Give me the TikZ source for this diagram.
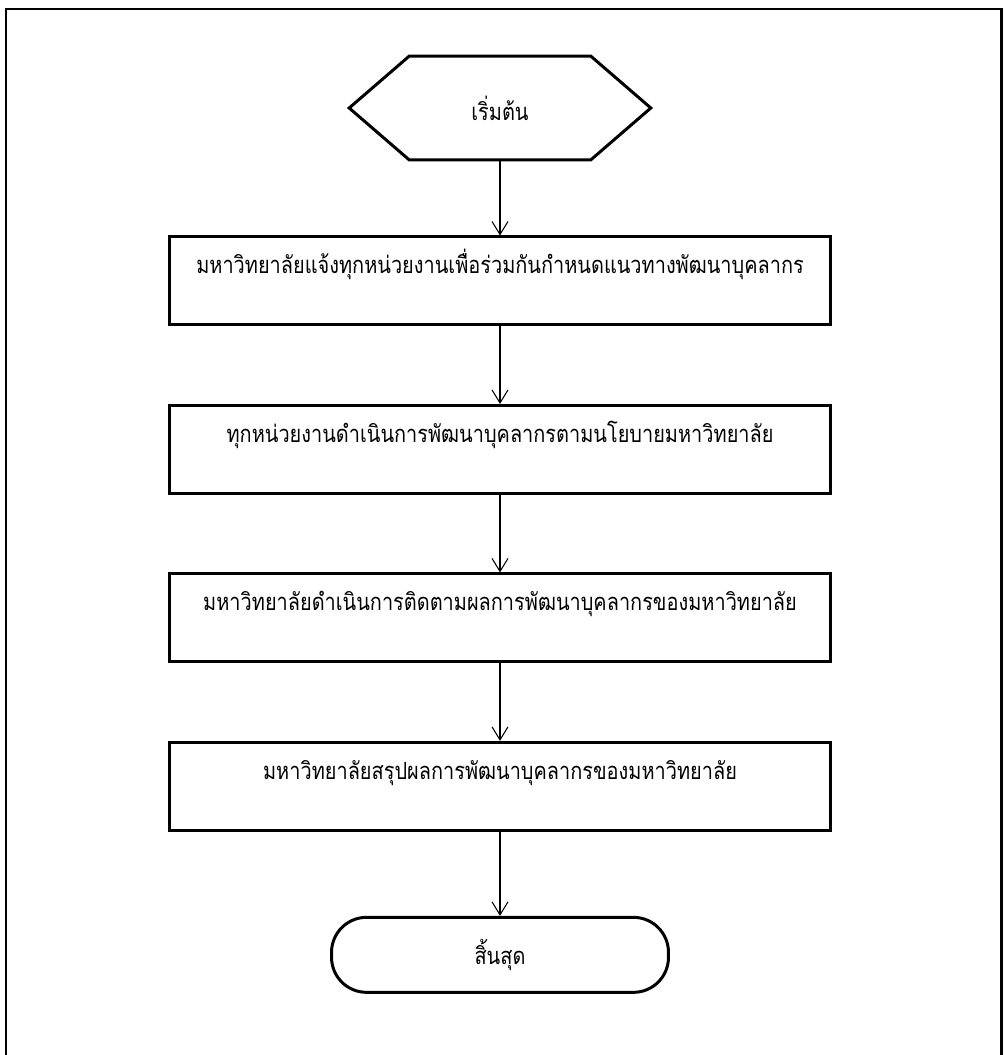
\documentclass[tikz,border=0pt]{standalone}
\usepackage{fontspec}
\newfontfamily\thaifont[Script=Thai,FakeStretch=0.84]{Loma}
\usetikzlibrary{arrows.meta,positioning}

\begin{document}
\begin{tikzpicture}[x=0.02cm,y=-0.02cm,>={Straight Barb[length=0.26cm,width=0.32cm]},
        node distance=3.37cm,on grid,
        every node/.style={font=\thaifont\fontsize{13.5}{16}\selectfont},
        stepbox/.style={draw,line width=1.7pt,minimum width=13.24cm,minimum height=1.76cm,
            inner ysep=0pt,text height=0.74cm,text depth=1.02cm},
        endbox/.style={draw,line width=1.7pt,rounded corners=0.7cm,minimum width=6.74cm,minimum height=1.5cm},
        flow/.style={->,line width=0.6pt}]
        \useasboundingbox (0,0) rectangle (1006,1055);
        % frame, open at the bottom
        \draw[line width=1.7pt] (6,1055) -- (6,9) -- (1001,9) -- (1001,1055);
        \node (start) [minimum width=6.02cm,minimum height=2.06cm] at (500,108) {เริ่มต้น};
        \draw[line width=1.7pt] (start.west) -- ([xshift=1.2cm]start.north west)
            -- ([xshift=-1.2cm]start.north east) -- (start.east)
            -- ([xshift=-1.2cm]start.south east) -- ([xshift=1.2cm]start.south west) -- cycle;
        \node[stepbox] (notify) [below=3.46cm of start] {มหาวิทยาลัยแจ้งทุกหน่วยงานเพื่อร่วมกันกำหนดแนวทางพัฒนาบุคลากร};
        \node[stepbox] (develop) [below of=notify] {ทุกหน่วยงานดำเนินการพัฒนาบุคลากรตามนโยบายมหาวิทยาลัย};
        \node[stepbox] (follow) [below of=develop] {มหาวิทยาลัยดำเนินการติดตามผลการพัฒนาบุคลากรของมหาวิทยาลัย};
        \node[stepbox] (summary) [below of=follow] {มหาวิทยาลัยสรุปผลการพัฒนาบุคลากรของมหาวิทยาลัย};
        \node[endbox] (stop) [below of=summary] {สิ้นสุด};
        \draw[flow] (start.south) -- (notify.north);
        \draw[flow] (notify.south) -- (develop.north);
        \draw[flow] (develop.south) -- (follow.north);
        \draw[flow] (follow.south) -- (summary.north);
        \draw[flow] (summary.south) -- (stop.north);
    \end{tikzpicture}
\end{document}
